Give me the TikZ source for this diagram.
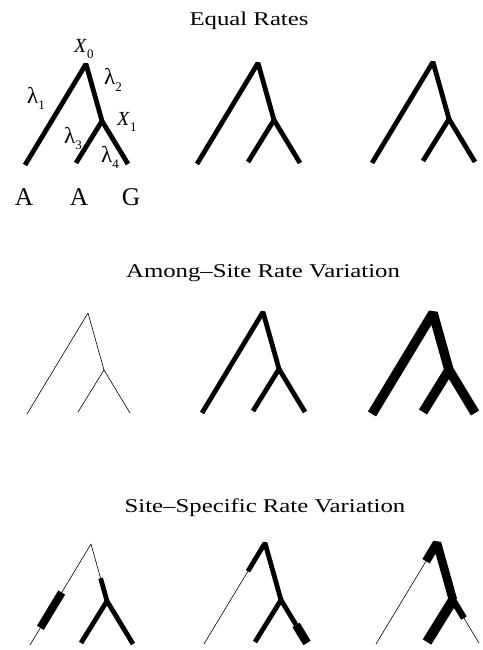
\documentclass[tikz,border=0pt]{standalone}
\usepackage{fontspec}
\setmainfont{Liberation Serif}
\usetikzlibrary{calc}
\newcommand\mktree[3]{%
  \coordinate (#1-r) at (#2,#3);
  \coordinate (#1-x) at ($(#1-r)+(16,57)$);
  \coordinate (#1-la) at ($(#1-r)+(-61,101)$);
  \coordinate (#1-lb) at ($(#1-r)+(-10,99)$);
  \coordinate (#1-lc) at ($(#1-r)+(42,100)$);
}
\newcommand\lam{{\fontsize{23}{23}\selectfont λ}}
\begin{document}
\begin{tikzpicture}[x=1pt,y=-1pt,line join=bevel,line cap=butt,
  hair/.style={line width=0.6pt},
  branch/.style={line width=4.8pt},
  heavy/.style={line width=9.5pt},
  title/.style={anchor=base,inner sep=0pt},
  lab/.style={anchor=base west,inner sep=0pt,font=\fontsize{20}{20}\selectfont},
  leaf/.style={anchor=base,inner sep=0pt,font=\fontsize{25.5}{26}\selectfont}]
\useasboundingbox (0,0) rectangle (482,650);
% titles
\node[title] (t1) at (249,26) {\scalebox{1.27}[1]{\fontsize{19.5}{20}\selectfont Equal Rates}};
\node[title] (t2) at (263,277) {\scalebox{1.27}[1]{\fontsize{19.5}{20}\selectfont Among\textendash Site Rate Variation}};
\node[title] (t3) at (265,512) {\scalebox{1.27}[1]{\fontsize{19.5}{20}\selectfont Site\textendash Specific Rate Variation}};
% tree coordinates
\mktree{a1}{86}{64}
\mktree{a2}{258}{63}
\mktree{a3}{433}{62}
\mktree{b1}{88}{313}
\mktree{b2}{263}{312}
\mktree{b3}{433}{313}
\mktree{c1}{91}{544}
\mktree{c2}{265}{543}
\mktree{c3}{437}{543}
% Equal rates
\foreach \t in {a1,a2,a3}{
  \draw[branch] (\t-la) -- (\t-r) -- (\t-x) -- (\t-lc);
  \draw[branch] (\t-x) -- (\t-lb);
}
% labels on first tree
\node[lab] (lx0) at (74,53) {\textit{X}\raisebox{-6pt}{\fontsize{13}{13}\selectfont 0}};
\node[lab] (ll1) at (27,103) {\lam\raisebox{-6pt}{\fontsize{13}{13}\selectfont 1}};
\node[lab] (ll2) at (104,85) {\lam\raisebox{-6pt}{\fontsize{13}{13}\selectfont 2}};
\node[lab] (lx1) at (117,125) {\textit{X}\raisebox{-6pt}{\fontsize{13}{13}\selectfont 1}};
\node[lab] (ll3) at (64,143) {\lam\raisebox{-6pt}{\fontsize{13}{13}\selectfont 3}};
\node[lab] (ll4) at (101,162) {\lam\raisebox{-6pt}{\fontsize{13}{13}\selectfont 4}};
\node[leaf] (s1) at (24,205) {A};
\node[leaf] (s2) at (79,205) {A};
\node[leaf] (s3) at (131,205) {G};
% Among-site rate variation
\draw[hair] (b1-la) -- (b1-r) -- (b1-x) -- (b1-lc);
\draw[hair] (b1-x) -- (b1-lb);
\draw[branch] (b2-la) -- (b2-r) -- (b2-x) -- (b2-lc);
\draw[branch] (b2-x) -- (b2-lb);
\draw[heavy] (b3-la) -- (b3-r) -- (b3-x) -- (b3-lc);
\draw[heavy] (b3-x) -- (b3-lb);
% Site-specific, tree 1
\draw[hair] (c1-la) -- (c1-r) -- (c1-x);
\draw[line width=8pt] ($(c1-r)!0.48!(c1-la)$) -- ($(c1-r)!0.83!(c1-la)$);
\draw[branch] ($(c1-r)!0.6!(c1-x)$) -- (c1-x) -- (c1-lc);
\draw[branch] (c1-x) -- (c1-lb);
% Site-specific, tree 2
\draw[hair] ($(c2-r)!0.28!(c2-la)$) -- (c2-la);
\draw[branch] ($(c2-r)!0.28!(c2-la)$) -- (c2-r) -- (c2-x) -- ($(c2-x)!0.58!(c2-lc)$);
\draw[branch] (c2-x) -- (c2-lb);
\draw[line width=8.5pt] ($(c2-x)!0.58!(c2-lc)$) -- (c2-lc);
% Site-specific, tree 3
\draw[hair] ($(c3-r)!0.18!(c3-la)$) -- (c3-la);
\draw[hair] ($(c3-x)!0.42!(c3-lc)$) -- (c3-lc);
\draw[line width=8.5pt] ($(c3-r)!0.18!(c3-la)$) -- (c3-r) -- (c3-x);
\draw[line width=10pt] (c3-x) -- (c3-lb);
\draw[line width=6.5pt] (c3-x) -- ($(c3-x)!0.42!(c3-lc)$);
\end{tikzpicture}
\end{document}
